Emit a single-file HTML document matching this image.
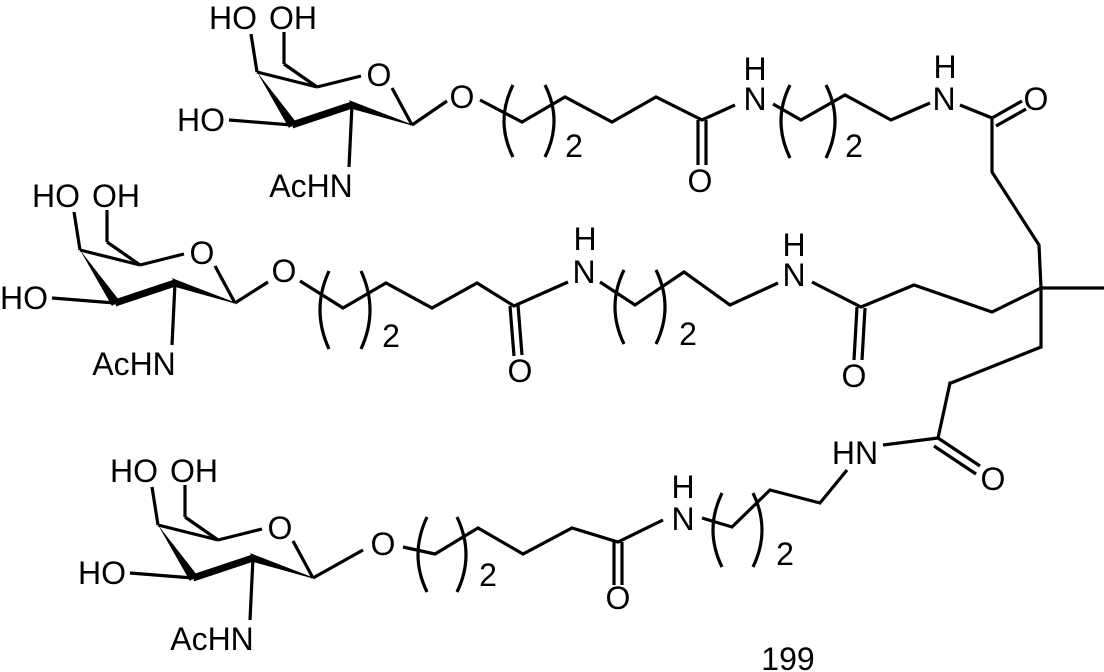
<!DOCTYPE html>
<html><head><meta charset="utf-8"><style>
html,body{margin:0;padding:0;background:#fff}
svg{display:block}
text{font-family:"Liberation Sans",Arial,sans-serif;font-size:32px;fill:#000;text-anchor:middle}
</style></head><body>
<svg width="1104" height="672" viewBox="0 0 1104 672" xmlns="http://www.w3.org/2000/svg">
<defs>
<g id="sug" stroke="#000" stroke-width="3.2" fill="none">
<line x1="152" y1="487" x2="158" y2="525"/>
<line x1="158" y1="525" x2="218" y2="540"/>
<line x1="218" y1="540" x2="185" y2="517"/>
<line x1="185" y1="517" x2="185" y2="485"/>
<line x1="218" y1="540" x2="262" y2="529"/>
<line x1="293" y1="541" x2="313" y2="578"/>
<line x1="193" y1="578" x2="253" y2="558" stroke-width="7"/>
<polygon points="158,525 197,575 190,581" fill="#000" stroke="none"/>
<polygon points="251,554 255,562 313,578" fill="#000" stroke="#000" stroke-width="1"/>
<line x1="130" y1="573" x2="193" y2="578"/>
<line x1="253" y1="558" x2="250" y2="620"/>
</g>
</defs>
<g>
<use href="#sug" transform="translate(99,-453)"/>
<use href="#sug" transform="translate(-78,-275)"/>
<use href="#sug"/>
</g>
<g transform="translate(99,-453)">
<text x="134" y="482">HO</text><text x="194" y="482">OH</text>
<text x="102" y="584">HO</text><text x="212" y="650">AcHN</text><text x="280" y="539">O</text>
</g>
<g transform="translate(-78,-275)">
<text x="134" y="482">HO</text><text x="194" y="482">OH</text>
<text x="102" y="584">HO</text><text x="212" y="650">AcHN</text><text x="280" y="539">O</text>
</g>
<g>
<text x="134" y="482">HO</text><text x="194" y="482">OH</text>
<text x="102" y="584">HO</text><text x="212" y="650">AcHN</text><text x="280" y="539">O</text>
</g>

<g stroke="#000" stroke-width="3.2" fill="none">
<line x1="412" y1="125" x2="447" y2="101"/>
<polyline points="480,100 522,122 565,97 612,122 656,97 702,120 735,105"/>
<line x1="698" y1="120" x2="698" y2="165"/><line x1="706" y1="120" x2="706" y2="165"/>
<polyline points="773,104 801,120 845,95 891,120 930,103"/>
<polyline points="960,105 992,118 992,172 1039,245 1041,288 1041,347 951,383 950,383 938,438"/>
<line x1="992" y1="118" x2="1022" y2="101"/><line x1="996" y1="126" x2="1026" y2="109"/>
<line x1="1041" y1="288" x2="1104" y2="288"/>
<path d="M513 85 Q495 121 513 157"/><path d="M545 85 Q563 121 545 157"/>
<path d="M790 85 Q772 121 790 158"/><path d="M826 85 Q844 121 826 158"/>
<line x1="235" y1="303" x2="268" y2="282"/>
<polyline points="300,281 343,308 386,283 432,308 477,283 514,306 568,282"/>
<line x1="510" y1="306" x2="514" y2="356"/><line x1="518" y1="305" x2="522" y2="355"/>
<polyline points="600,282 635,305 684,272 730,305 778,283"/>
<polyline points="812,282 861,307 914,285 992,312 1041,288"/>
<line x1="857" y1="307" x2="854" y2="360"/><line x1="865" y1="308" x2="862" y2="360"/>
<path d="M329 271 Q311 310 329 349"/><path d="M361 271 Q379 310 361 349"/>
<path d="M624 270 Q606 307 624 344"/><path d="M656 270 Q674 307 656 344"/>
<line x1="313" y1="578" x2="363" y2="550"/>
<polyline points="403,547 435,554 478,528 523,554 572,528 618,542 663,520"/>
<line x1="614" y1="542" x2="614" y2="585"/><line x1="622" y1="542" x2="622" y2="585"/>
<polyline points="702,518 732,527 770,490 820,503 847,470"/>
<line x1="883" y1="445" x2="938" y2="438"/>
<line x1="938" y1="438" x2="980" y2="466"/><line x1="934" y1="446" x2="976" y2="474"/>
<path d="M427 517 Q409 555 427 592"/><path d="M457 517 Q475 555 457 592"/>
<path d="M722 493 Q704 530 722 567"/><path d="M753 493 Q771 530 753 567"/>
</g>
<text x="462" y="108">O</text>
<text x="574" y="157">2</text>
<text x="700" y="192">O</text>
<text x="755" y="80">H</text><text x="755" y="110">N</text>
<text x="854" y="157">2</text>
<text x="945" y="78">H</text><text x="944" y="110">N</text>
<text x="1036" y="110">O</text>

<text x="284" y="282">O</text>
<text x="391" y="347">2</text>
<text x="520" y="382">O</text>
<text x="585" y="250">H</text><text x="584" y="283">N</text>
<text x="688" y="345">2</text>
<text x="794" y="256">H</text><text x="794" y="286">N</text>
<text x="854" y="387">O</text>

<text x="383" y="555">O</text>
<text x="488" y="586">2</text>
<text x="618" y="609">O</text>
<text x="683" y="498">H</text><text x="683" y="530">N</text>
<text x="785" y="565">2</text>
<text x="855" y="464">HN</text>
<text x="993" y="490">O</text>
<text x="788" y="670">199</text>
</svg>
</body></html>
